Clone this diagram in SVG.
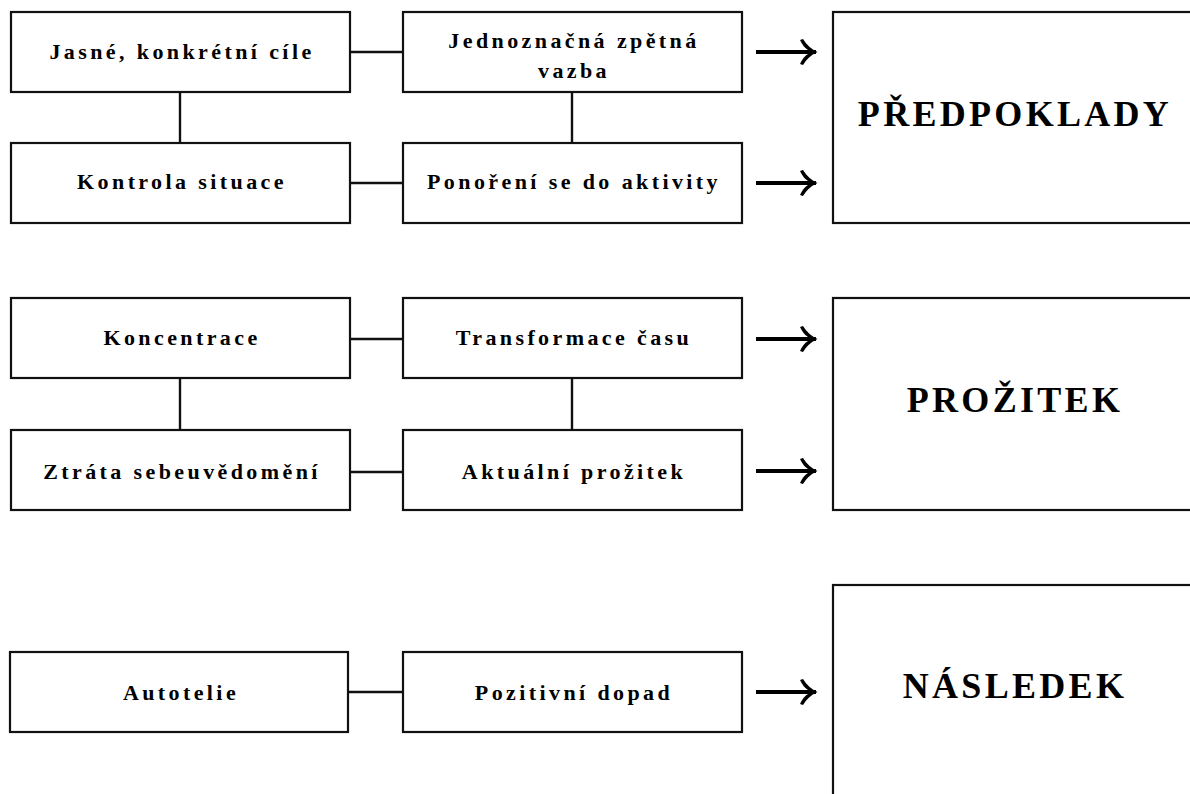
<svg xmlns="http://www.w3.org/2000/svg" width="1190" height="794" viewBox="0 0 1190 794">
<style>
.box{fill:#fff;stroke:#111;stroke-width:2.2}
.t{font-family:"Liberation Serif","Times New Roman",serif;font-weight:bold;font-size:22px;letter-spacing:3.4px;text-anchor:middle;fill:#000}
.big{font-family:"Liberation Serif","Times New Roman",serif;font-weight:bold;font-size:36px;letter-spacing:3.3px;text-anchor:middle;fill:#000}
.c{stroke:#111;stroke-width:2.4;fill:none}
.a{stroke:#000;stroke-width:3.8;fill:none;marker-end:url(#ah)}
</style>
<defs>
<marker id="ah" markerUnits="userSpaceOnUse" markerWidth="24" markerHeight="30" viewBox="-18 -15 20 30" refX="0" refY="0" orient="auto">
<path d="M1.5,0 Q-8,-4.5 -13,-13 L-16,-12 Q-12.5,-4.5 -8,-2 L-8,2 Q-12.5,4.5 -16,12 L-13,13 Q-8,4.5 1.5,0 Z" fill="#000"/>
</marker>
</defs>
<g id="connectors">
<line class="c" x1="350" y1="52" x2="403" y2="52"/>
<line class="c" x1="350" y1="183" x2="403" y2="183"/>
<line class="c" x1="180" y1="92" x2="180" y2="143"/>
<line class="c" x1="572" y1="92" x2="572" y2="143"/>
<line class="a" x1="756" y1="52" x2="816" y2="52"/>
<line class="a" x1="756" y1="183" x2="816" y2="183"/>
<line class="c" x1="350" y1="339" x2="403" y2="339"/>
<line class="c" x1="350" y1="472" x2="403" y2="472"/>
<line class="c" x1="180" y1="378" x2="180" y2="430"/>
<line class="c" x1="572" y1="378" x2="572" y2="430"/>
<line class="a" x1="756" y1="339" x2="816" y2="339"/>
<line class="a" x1="756" y1="471" x2="816" y2="471"/>
<line class="c" x1="348" y1="692" x2="403" y2="692"/>
<line class="a" x1="756" y1="692" x2="816" y2="692"/>
</g>
<g id="n1"><rect class="box" x="11" y="12" width="339" height="80"/><text class="t" x="182" y="59">Jasné, konkrétní cíle</text></g>
<g id="n2"><rect class="box" x="403" y="12" width="339" height="80"/><text class="t" x="574" y="48">Jednoznačná zpětná</text><text class="t" x="574" y="78">vazba</text></g>
<g id="n3"><rect class="box" x="11" y="143" width="339" height="80"/><text class="t" x="182" y="189">Kontrola situace</text></g>
<g id="n4"><rect class="box" x="403" y="143" width="339" height="80"/><text class="t" x="574" y="189">Ponoření se do aktivity</text></g>
<g id="p1"><rect class="box" x="833" y="12" width="370" height="211"/><text class="big" x="1015" y="126">PŘEDPOKLADY</text></g>
<g id="n5"><rect class="box" x="11" y="298" width="339" height="80"/><text class="t" x="182" y="345">Koncentrace</text></g>
<g id="n6"><rect class="box" x="403" y="298" width="339" height="80"/><text class="t" x="574" y="345">Transformace času</text></g>
<g id="n7"><rect class="box" x="11" y="430" width="339" height="80"/><text class="t" x="182" y="479">Ztráta sebeuvědomění</text></g>
<g id="n8"><rect class="box" x="403" y="430" width="339" height="80"/><text class="t" x="574" y="479">Aktuální prožitek</text></g>
<g id="p2"><rect class="box" x="833" y="298" width="370" height="212"/><text class="big" x="1015" y="412">PROŽITEK</text></g>
<g id="n9"><rect class="box" x="10" y="652" width="338" height="80"/><text class="t" x="181" y="700">Autotelie</text></g>
<g id="n10"><rect class="box" x="403" y="652" width="339" height="80"/><text class="t" x="574" y="700">Pozitivní dopad</text></g>
<g id="p3"><rect class="box" x="833" y="585" width="370" height="230"/><text class="big" x="1015" y="698">NÁSLEDEK</text></g>
</svg>
